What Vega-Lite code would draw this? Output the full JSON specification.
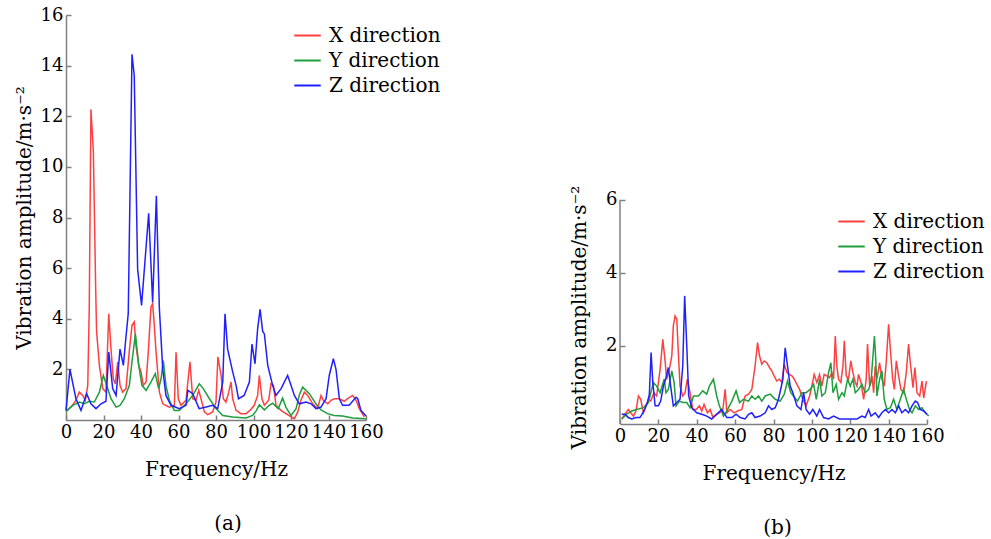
{
  "$schema": "https://vega.github.io/schema/vega-lite/v6.json",
  "padding": {"left": 14, "top": 6, "right": 0, "bottom": 0},
  "background": "white",
  "config": {
    "font": "DejaVu Serif",
    "view": {"stroke": null},
    "axis": {"labelFont": "DejaVu Serif", "titleFont": "DejaVu Serif", "labelFontSize": 18, "titleFontSize": 20, "labelColor": "black", "titleColor": "black", "titleFontWeight": "normal", "domainColor": "#808080", "domainWidth": 1.5, "tickColor": "#808080", "tickWidth": 1.5, "tickSize": -5, "labelPadding": 8, "labelOverlap": false, "labelFlush": false, "grid": false},
    "legend": {"labelFont": "DejaVu Serif", "labelFontSize": 20, "labelColor": "black", "symbolType": "stroke", "symbolSize": 700, "symbolStrokeWidth": 2, "labelOffset": 7, "rowPadding": 0, "padding": 0, "title": null},
    "title": {"font": "DejaVu Serif", "fontSize": 20, "fontWeight": "normal", "color": "black"}
  },
  "datasets": {
    "a": [
      {"f":0,"v":0.34,"dir":"X direction"},{"f":2.7,"v":0.51,"dir":"X direction"},{"f":5.3,"v":0.78,"dir":"X direction"},{"f":7.1,"v":1.1,"dir":"X direction"},{"f":8.9,"v":0.97,"dir":"X direction"},{"f":10.3,"v":0.78,"dir":"X direction"},{"f":11.6,"v":1.37,"dir":"X direction"},{"f":12.4,"v":4.4,"dir":"X direction"},{"f":13.3,"v":12.27,"dir":"X direction"},{"f":14.6,"v":10.6,"dir":"X direction"},{"f":15.8,"v":5.3,"dir":"X direction"},{"f":16.3,"v":3.5,"dir":"X direction"},{"f":17.8,"v":2.16,"dir":"X direction"},{"f":19.6,"v":1.24,"dir":"X direction"},{"f":21.3,"v":1.1,"dir":"X direction"},{"f":22.8,"v":4.2,"dir":"X direction"},{"f":24,"v":2.8,"dir":"X direction"},{"f":25.2,"v":1.63,"dir":"X direction"},{"f":26.3,"v":1.43,"dir":"X direction"},{"f":27.6,"v":2.3,"dir":"X direction"},{"f":28.8,"v":1.37,"dir":"X direction"},{"f":30.2,"v":1.1,"dir":"X direction"},{"f":32,"v":1.24,"dir":"X direction"},{"f":33.8,"v":2.75,"dir":"X direction"},{"f":35.2,"v":3.74,"dir":"X direction"},{"f":36.4,"v":3.87,"dir":"X direction"},{"f":37.3,"v":2.95,"dir":"X direction"},{"f":38.8,"v":2.16,"dir":"X direction"},{"f":40,"v":1.9,"dir":"X direction"},{"f":41.2,"v":1.37,"dir":"X direction"},{"f":42.7,"v":1.5,"dir":"X direction"},{"f":43.9,"v":2.7,"dir":"X direction"},{"f":45.3,"v":4.46,"dir":"X direction"},{"f":46.2,"v":4.6,"dir":"X direction"},{"f":47.1,"v":3.74,"dir":"X direction"},{"f":48,"v":2.7,"dir":"X direction"},{"f":49.8,"v":1.1,"dir":"X direction"},{"f":51.6,"v":0.64,"dir":"X direction"},{"f":55.1,"v":0.51,"dir":"X direction"},{"f":57.8,"v":0.58,"dir":"X direction"},{"f":58.7,"v":2.68,"dir":"X direction"},{"f":59.9,"v":0.84,"dir":"X direction"},{"f":61.3,"v":0.58,"dir":"X direction"},{"f":64,"v":0.78,"dir":"X direction"},{"f":66.1,"v":2.3,"dir":"X direction"},{"f":67.6,"v":0.84,"dir":"X direction"},{"f":69.3,"v":0.78,"dir":"X direction"},{"f":70.8,"v":1.17,"dir":"X direction"},{"f":72,"v":0.84,"dir":"X direction"},{"f":73.8,"v":0.32,"dir":"X direction"},{"f":75.6,"v":0.21,"dir":"X direction"},{"f":78.2,"v":0.32,"dir":"X direction"},{"f":80,"v":0.71,"dir":"X direction"},{"f":81,"v":2.49,"dir":"X direction"},{"f":82.7,"v":1.76,"dir":"X direction"},{"f":83.9,"v":0.84,"dir":"X direction"},{"f":85.3,"v":0.71,"dir":"X direction"},{"f":86.8,"v":1.1,"dir":"X direction"},{"f":88,"v":1.5,"dir":"X direction"},{"f":88.9,"v":0.84,"dir":"X direction"},{"f":90.7,"v":0.38,"dir":"X direction"},{"f":93.3,"v":0.25,"dir":"X direction"},{"f":96,"v":0.25,"dir":"X direction"},{"f":98.1,"v":0.38,"dir":"X direction"},{"f":100.4,"v":0.58,"dir":"X direction"},{"f":102.2,"v":0.97,"dir":"X direction"},{"f":103.1,"v":1.76,"dir":"X direction"},{"f":104.5,"v":0.84,"dir":"X direction"},{"f":105.8,"v":0.58,"dir":"X direction"},{"f":108.1,"v":0.78,"dir":"X direction"},{"f":109.3,"v":1.43,"dir":"X direction"},{"f":110.6,"v":1.37,"dir":"X direction"},{"f":112,"v":0.58,"dir":"X direction"},{"f":114.7,"v":0.38,"dir":"X direction"},{"f":117.3,"v":0.25,"dir":"X direction"},{"f":120,"v":0.12,"dir":"X direction"},{"f":121.8,"v":0.05,"dir":"X direction"},{"f":123.6,"v":0.32,"dir":"X direction"},{"f":125.3,"v":0.78,"dir":"X direction"},{"f":127.1,"v":1.1,"dir":"X direction"},{"f":128.9,"v":0.97,"dir":"X direction"},{"f":131.6,"v":0.64,"dir":"X direction"},{"f":134.2,"v":0.45,"dir":"X direction"},{"f":136,"v":0.97,"dir":"X direction"},{"f":137.2,"v":0.78,"dir":"X direction"},{"f":139.6,"v":0.64,"dir":"X direction"},{"f":141.3,"v":0.78,"dir":"X direction"},{"f":143.1,"v":0.84,"dir":"X direction"},{"f":145.8,"v":0.84,"dir":"X direction"},{"f":148.4,"v":0.74,"dir":"X direction"},{"f":150.2,"v":0.84,"dir":"X direction"},{"f":152.9,"v":0.97,"dir":"X direction"},{"f":154.7,"v":0.78,"dir":"X direction"},{"f":156.4,"v":0.45,"dir":"X direction"},{"f":159.1,"v":0.12,"dir":"X direction"},
      {"f":0,"v":0.34,"dir":"Y direction"},{"f":3.6,"v":0.58,"dir":"Y direction"},{"f":7.1,"v":0.71,"dir":"Y direction"},{"f":9.8,"v":0.64,"dir":"Y direction"},{"f":12.4,"v":0.74,"dir":"Y direction"},{"f":15.1,"v":0.71,"dir":"Y direction"},{"f":17.8,"v":1.1,"dir":"Y direction"},{"f":19.9,"v":1.76,"dir":"Y direction"},{"f":21.7,"v":1.37,"dir":"Y direction"},{"f":24,"v":0.84,"dir":"Y direction"},{"f":26.7,"v":0.51,"dir":"Y direction"},{"f":28.8,"v":0.58,"dir":"Y direction"},{"f":31.1,"v":0.84,"dir":"Y direction"},{"f":33.8,"v":1.37,"dir":"Y direction"},{"f":35.2,"v":2.3,"dir":"Y direction"},{"f":37,"v":3.4,"dir":"Y direction"},{"f":38.8,"v":2.16,"dir":"Y direction"},{"f":40.5,"v":1.37,"dir":"Y direction"},{"f":42.7,"v":1.17,"dir":"Y direction"},{"f":45.3,"v":1.5,"dir":"Y direction"},{"f":47.6,"v":1.83,"dir":"Y direction"},{"f":49.4,"v":1.24,"dir":"Y direction"},{"f":50.7,"v":1.63,"dir":"Y direction"},{"f":51.9,"v":2.35,"dir":"Y direction"},{"f":53.3,"v":1.37,"dir":"Y direction"},{"f":55.1,"v":0.78,"dir":"Y direction"},{"f":57.8,"v":0.38,"dir":"Y direction"},{"f":60.4,"v":0.38,"dir":"Y direction"},{"f":64,"v":0.64,"dir":"Y direction"},{"f":67.6,"v":0.97,"dir":"Y direction"},{"f":71.1,"v":1.43,"dir":"Y direction"},{"f":73.2,"v":1.24,"dir":"Y direction"},{"f":76.4,"v":0.85,"dir":"Y direction"},{"f":80,"v":0.45,"dir":"Y direction"},{"f":83.6,"v":0.18,"dir":"Y direction"},{"f":88.9,"v":0.12,"dir":"Y direction"},{"f":96,"v":0.08,"dir":"Y direction"},{"f":99.5,"v":0.18,"dir":"Y direction"},{"f":101.3,"v":0.35,"dir":"Y direction"},{"f":103.1,"v":0.6,"dir":"Y direction"},{"f":105.8,"v":0.4,"dir":"Y direction"},{"f":108.4,"v":0.58,"dir":"Y direction"},{"f":110.2,"v":0.66,"dir":"Y direction"},{"f":113.2,"v":0.45,"dir":"Y direction"},{"f":115.5,"v":0.87,"dir":"Y direction"},{"f":117.3,"v":0.5,"dir":"Y direction"},{"f":120,"v":0.18,"dir":"Y direction"},{"f":122.7,"v":0.45,"dir":"Y direction"},{"f":124.5,"v":1.0,"dir":"Y direction"},{"f":126.2,"v":1.3,"dir":"Y direction"},{"f":129.8,"v":1.04,"dir":"Y direction"},{"f":133.3,"v":0.64,"dir":"Y direction"},{"f":136,"v":0.4,"dir":"Y direction"},{"f":139.5,"v":0.25,"dir":"Y direction"},{"f":143,"v":0.18,"dir":"Y direction"},{"f":147.5,"v":0.16,"dir":"Y direction"},{"f":152.9,"v":0.08,"dir":"Y direction"},{"f":160,"v":0.05,"dir":"Y direction"},
      {"f":0,"v":0.38,"dir":"Z direction"},{"f":2.1,"v":2.0,"dir":"Z direction"},{"f":5.3,"v":0.84,"dir":"Z direction"},{"f":8,"v":0.38,"dir":"Z direction"},{"f":11,"v":1.04,"dir":"Z direction"},{"f":13.3,"v":0.64,"dir":"Z direction"},{"f":16,"v":0.45,"dir":"Z direction"},{"f":18.7,"v":0.64,"dir":"Z direction"},{"f":21.3,"v":0.74,"dir":"Z direction"},{"f":22.8,"v":2.68,"dir":"Z direction"},{"f":24.9,"v":1.24,"dir":"Z direction"},{"f":26.7,"v":0.97,"dir":"Z direction"},{"f":28.8,"v":2.8,"dir":"Z direction"},{"f":30.6,"v":2.16,"dir":"Z direction"},{"f":32,"v":3.3,"dir":"Z direction"},{"f":33.2,"v":4.2,"dir":"Z direction"},{"f":35.2,"v":14.45,"dir":"Z direction"},{"f":36.4,"v":13.6,"dir":"Z direction"},{"f":38.2,"v":5.96,"dir":"Z direction"},{"f":40.3,"v":4.53,"dir":"Z direction"},{"f":44.1,"v":8.17,"dir":"Z direction"},{"f":46.2,"v":4.65,"dir":"Z direction"},{"f":48.2,"v":8.86,"dir":"Z direction"},{"f":49.8,"v":4.4,"dir":"Z direction"},{"f":51.6,"v":2.0,"dir":"Z direction"},{"f":53.3,"v":0.97,"dir":"Z direction"},{"f":56,"v":0.58,"dir":"Z direction"},{"f":60.4,"v":0.45,"dir":"Z direction"},{"f":64,"v":0.58,"dir":"Z direction"},{"f":65,"v":1.17,"dir":"Z direction"},{"f":67.6,"v":1.04,"dir":"Z direction"},{"f":71,"v":0.45,"dir":"Z direction"},{"f":74.7,"v":0.51,"dir":"Z direction"},{"f":78.2,"v":0.58,"dir":"Z direction"},{"f":80.9,"v":0.45,"dir":"Z direction"},{"f":83.6,"v":1.5,"dir":"Z direction"},{"f":84.8,"v":4.2,"dir":"Z direction"},{"f":86.2,"v":2.8,"dir":"Z direction"},{"f":88.9,"v":1.9,"dir":"Z direction"},{"f":90.7,"v":1.37,"dir":"Z direction"},{"f":92,"v":0.84,"dir":"Z direction"},{"f":95,"v":0.97,"dir":"Z direction"},{"f":97.8,"v":1.5,"dir":"Z direction"},{"f":99.2,"v":3.0,"dir":"Z direction"},{"f":100.8,"v":2.22,"dir":"Z direction"},{"f":102.2,"v":3.6,"dir":"Z direction"},{"f":103.5,"v":4.37,"dir":"Z direction"},{"f":104.9,"v":3.5,"dir":"Z direction"},{"f":105.8,"v":3.4,"dir":"Z direction"},{"f":107.6,"v":2.16,"dir":"Z direction"},{"f":110.2,"v":1.37,"dir":"Z direction"},{"f":112,"v":0.97,"dir":"Z direction"},{"f":114.7,"v":1.24,"dir":"Z direction"},{"f":118.2,"v":1.76,"dir":"Z direction"},{"f":120,"v":1.37,"dir":"Z direction"},{"f":121.8,"v":0.97,"dir":"Z direction"},{"f":124.4,"v":0.64,"dir":"Z direction"},{"f":128,"v":0.71,"dir":"Z direction"},{"f":130.7,"v":0.64,"dir":"Z direction"},{"f":133.3,"v":0.45,"dir":"Z direction"},{"f":136,"v":0.51,"dir":"Z direction"},{"f":138.7,"v":0.84,"dir":"Z direction"},{"f":140.4,"v":1.76,"dir":"Z direction"},{"f":142.6,"v":2.42,"dir":"Z direction"},{"f":144,"v":2.0,"dir":"Z direction"},{"f":145.8,"v":0.84,"dir":"Z direction"},{"f":147.5,"v":0.58,"dir":"Z direction"},{"f":151,"v":0.58,"dir":"Z direction"},{"f":154.7,"v":0.9,"dir":"Z direction"},{"f":155.6,"v":0.84,"dir":"Z direction"},{"f":157.3,"v":0.38,"dir":"Z direction"},{"f":160,"v":0.16,"dir":"Z direction"}
    ],
    "b": [
      {"f":0.9,"v":0.0,"dir":"X direction"},{"f":2.6,"v":0.13,"dir":"X direction"},{"f":4.3,"v":0.26,"dir":"X direction"},{"f":5.6,"v":0.17,"dir":"X direction"},{"f":7,"v":0.08,"dir":"X direction"},{"f":8.3,"v":0.22,"dir":"X direction"},{"f":9.6,"v":0.63,"dir":"X direction"},{"f":10.8,"v":0.54,"dir":"X direction"},{"f":12.2,"v":0.17,"dir":"X direction"},{"f":13.6,"v":0.36,"dir":"X direction"},{"f":14.8,"v":0.54,"dir":"X direction"},{"f":16,"v":0.49,"dir":"X direction"},{"f":17.7,"v":0.72,"dir":"X direction"},{"f":19.1,"v":0.63,"dir":"X direction"},{"f":20.9,"v":1.36,"dir":"X direction"},{"f":22.3,"v":2.18,"dir":"X direction"},{"f":23.5,"v":1.59,"dir":"X direction"},{"f":24.3,"v":1.09,"dir":"X direction"},{"f":25.7,"v":1.36,"dir":"X direction"},{"f":27,"v":1.73,"dir":"X direction"},{"f":27.8,"v":2.55,"dir":"X direction"},{"f":28.7,"v":2.82,"dir":"X direction"},{"f":29.6,"v":2.73,"dir":"X direction"},{"f":30.4,"v":1.82,"dir":"X direction"},{"f":31.3,"v":0.9,"dir":"X direction"},{"f":32.7,"v":0.63,"dir":"X direction"},{"f":33.9,"v":0.72,"dir":"X direction"},{"f":35.1,"v":1.09,"dir":"X direction"},{"f":36.5,"v":0.72,"dir":"X direction"},{"f":37.9,"v":0.26,"dir":"X direction"},{"f":39.7,"v":0.26,"dir":"X direction"},{"f":41.4,"v":0.36,"dir":"X direction"},{"f":42.6,"v":0.22,"dir":"X direction"},{"f":43.8,"v":0.4,"dir":"X direction"},{"f":45.6,"v":0.17,"dir":"X direction"},{"f":47,"v":0.26,"dir":"X direction"},{"f":48.3,"v":0.06,"dir":"X direction"},{"f":50.4,"v":0.13,"dir":"X direction"},{"f":51.8,"v":0.17,"dir":"X direction"},{"f":53.6,"v":0.26,"dir":"X direction"},{"f":54.8,"v":0.81,"dir":"X direction"},{"f":55.7,"v":0.17,"dir":"X direction"},{"f":57.4,"v":0.26,"dir":"X direction"},{"f":59.5,"v":0.17,"dir":"X direction"},{"f":61.2,"v":0.22,"dir":"X direction"},{"f":63.5,"v":0.26,"dir":"X direction"},{"f":65.2,"v":0.63,"dir":"X direction"},{"f":67,"v":0.68,"dir":"X direction"},{"f":68.7,"v":0.81,"dir":"X direction"},{"f":70.4,"v":1.45,"dir":"X direction"},{"f":71.7,"v":2.09,"dir":"X direction"},{"f":72.7,"v":1.73,"dir":"X direction"},{"f":73.9,"v":1.5,"dir":"X direction"},{"f":75.1,"v":1.59,"dir":"X direction"},{"f":76.5,"v":1.54,"dir":"X direction"},{"f":77.9,"v":1.41,"dir":"X direction"},{"f":79.1,"v":1.32,"dir":"X direction"},{"f":80.3,"v":1.18,"dir":"X direction"},{"f":81.7,"v":1.04,"dir":"X direction"},{"f":83.1,"v":1.09,"dir":"X direction"},{"f":84.3,"v":1.0,"dir":"X direction"},{"f":85.6,"v":1.5,"dir":"X direction"},{"f":87,"v":1.27,"dir":"X direction"},{"f":88.3,"v":1.22,"dir":"X direction"},{"f":89.6,"v":1.18,"dir":"X direction"},{"f":90.8,"v":1.09,"dir":"X direction"},{"f":92.2,"v":0.95,"dir":"X direction"},{"f":93.6,"v":0.81,"dir":"X direction"},{"f":95.3,"v":0.54,"dir":"X direction"},{"f":97,"v":0.36,"dir":"X direction"},{"f":98.8,"v":0.63,"dir":"X direction"},{"f":100,"v":0.9,"dir":"X direction"},{"f":101.2,"v":1.22,"dir":"X direction"},{"f":102.6,"v":1.0,"dir":"X direction"},{"f":104,"v":1.22,"dir":"X direction"},{"f":105.2,"v":0.9,"dir":"X direction"},{"f":106.4,"v":1.22,"dir":"X direction"},{"f":107.8,"v":1.18,"dir":"X direction"},{"f":109.2,"v":1.13,"dir":"X direction"},{"f":110.4,"v":1.27,"dir":"X direction"},{"f":111.3,"v":1.09,"dir":"X direction"},{"f":112.2,"v":2.27,"dir":"X direction"},{"f":113,"v":1.45,"dir":"X direction"},{"f":113.9,"v":1.09,"dir":"X direction"},{"f":115.1,"v":1.0,"dir":"X direction"},{"f":116.2,"v":1.45,"dir":"X direction"},{"f":116.9,"v":2.14,"dir":"X direction"},{"f":117.9,"v":1.18,"dir":"X direction"},{"f":119.1,"v":1.09,"dir":"X direction"},{"f":120.3,"v":1.59,"dir":"X direction"},{"f":121.4,"v":1.27,"dir":"X direction"},{"f":122.6,"v":1.0,"dir":"X direction"},{"f":123.5,"v":0.9,"dir":"X direction"},{"f":124.3,"v":1.22,"dir":"X direction"},{"f":125.6,"v":1.0,"dir":"X direction"},{"f":127,"v":0.54,"dir":"X direction"},{"f":128.3,"v":1.09,"dir":"X direction"},{"f":129,"v":2.05,"dir":"X direction"},{"f":130.1,"v":0.9,"dir":"X direction"},{"f":131.3,"v":1.18,"dir":"X direction"},{"f":132.2,"v":0.72,"dir":"X direction"},{"f":133,"v":1.45,"dir":"X direction"},{"f":133.9,"v":1.09,"dir":"X direction"},{"f":135.3,"v":1.54,"dir":"X direction"},{"f":136.5,"v":1.09,"dir":"X direction"},{"f":137.7,"v":0.9,"dir":"X direction"},{"f":138.8,"v":1.59,"dir":"X direction"},{"f":140,"v":2.59,"dir":"X direction"},{"f":140.9,"v":1.91,"dir":"X direction"},{"f":142.1,"v":1.09,"dir":"X direction"},{"f":143,"v":0.81,"dir":"X direction"},{"f":144,"v":1.59,"dir":"X direction"},{"f":145.2,"v":1.18,"dir":"X direction"},{"f":146.4,"v":0.81,"dir":"X direction"},{"f":147.8,"v":0.72,"dir":"X direction"},{"f":149.2,"v":1.27,"dir":"X direction"},{"f":150.4,"v":2.05,"dir":"X direction"},{"f":151.3,"v":1.54,"dir":"X direction"},{"f":152.7,"v":0.86,"dir":"X direction"},{"f":153.7,"v":1.41,"dir":"X direction"},{"f":154.8,"v":0.72,"dir":"X direction"},{"f":156.2,"v":0.63,"dir":"X direction"},{"f":157.4,"v":1.04,"dir":"X direction"},{"f":158.3,"v":0.58,"dir":"X direction"},{"f":159.7,"v":1.04,"dir":"X direction"},
      {"f":0.9,"v":0.0,"dir":"Y direction"},{"f":3.5,"v":0.13,"dir":"Y direction"},{"f":6.1,"v":0.22,"dir":"Y direction"},{"f":8.7,"v":0.26,"dir":"Y direction"},{"f":12.2,"v":0.31,"dir":"Y direction"},{"f":14.8,"v":0.45,"dir":"Y direction"},{"f":17.4,"v":1.0,"dir":"Y direction"},{"f":19.1,"v":0.9,"dir":"Y direction"},{"f":20.9,"v":0.72,"dir":"Y direction"},{"f":23,"v":1.09,"dir":"Y direction"},{"f":24,"v":0.72,"dir":"Y direction"},{"f":25.2,"v":0.81,"dir":"Y direction"},{"f":27,"v":1.32,"dir":"Y direction"},{"f":28.2,"v":1.0,"dir":"Y direction"},{"f":29.2,"v":0.36,"dir":"Y direction"},{"f":31,"v":0.49,"dir":"Y direction"},{"f":32.7,"v":0.45,"dir":"Y direction"},{"f":34.8,"v":0.45,"dir":"Y direction"},{"f":36.5,"v":0.31,"dir":"Y direction"},{"f":38.3,"v":0.63,"dir":"Y direction"},{"f":40.9,"v":0.63,"dir":"Y direction"},{"f":43.1,"v":0.77,"dir":"Y direction"},{"f":45.2,"v":0.68,"dir":"Y direction"},{"f":46.6,"v":0.9,"dir":"Y direction"},{"f":48.7,"v":1.09,"dir":"Y direction"},{"f":50.4,"v":0.63,"dir":"Y direction"},{"f":51.8,"v":0.36,"dir":"Y direction"},{"f":53.9,"v":0.08,"dir":"Y direction"},{"f":55.7,"v":0.22,"dir":"Y direction"},{"f":58.3,"v":0.49,"dir":"Y direction"},{"f":60.5,"v":0.77,"dir":"Y direction"},{"f":62.3,"v":0.45,"dir":"Y direction"},{"f":64.3,"v":0.54,"dir":"Y direction"},{"f":67,"v":0.49,"dir":"Y direction"},{"f":68.7,"v":0.63,"dir":"Y direction"},{"f":70.4,"v":0.54,"dir":"Y direction"},{"f":72.2,"v":0.63,"dir":"Y direction"},{"f":73.9,"v":0.49,"dir":"Y direction"},{"f":75.7,"v":0.63,"dir":"Y direction"},{"f":78.3,"v":0.68,"dir":"Y direction"},{"f":80.9,"v":0.54,"dir":"Y direction"},{"f":83.5,"v":0.49,"dir":"Y direction"},{"f":85.6,"v":0.68,"dir":"Y direction"},{"f":87.3,"v":1.04,"dir":"Y direction"},{"f":89,"v":0.72,"dir":"Y direction"},{"f":90.4,"v":0.63,"dir":"Y direction"},{"f":92.5,"v":0.49,"dir":"Y direction"},{"f":94.8,"v":0.72,"dir":"Y direction"},{"f":97,"v":0.72,"dir":"Y direction"},{"f":99.1,"v":0.81,"dir":"Y direction"},{"f":100.9,"v":0.95,"dir":"Y direction"},{"f":102.3,"v":0.54,"dir":"Y direction"},{"f":104,"v":1.09,"dir":"Y direction"},{"f":105.2,"v":0.63,"dir":"Y direction"},{"f":107,"v":0.72,"dir":"Y direction"},{"f":108.7,"v":1.27,"dir":"Y direction"},{"f":109.9,"v":1.54,"dir":"Y direction"},{"f":111,"v":0.72,"dir":"Y direction"},{"f":112.7,"v":0.95,"dir":"Y direction"},{"f":113.9,"v":0.54,"dir":"Y direction"},{"f":115.7,"v":0.72,"dir":"Y direction"},{"f":116.9,"v":0.63,"dir":"Y direction"},{"f":118.6,"v":1.09,"dir":"Y direction"},{"f":120,"v":0.9,"dir":"Y direction"},{"f":121.4,"v":1.09,"dir":"Y direction"},{"f":122.6,"v":0.72,"dir":"Y direction"},{"f":124.3,"v":0.81,"dir":"Y direction"},{"f":126.1,"v":0.95,"dir":"Y direction"},{"f":127.8,"v":0.72,"dir":"Y direction"},{"f":129.6,"v":0.81,"dir":"Y direction"},{"f":130.8,"v":1.0,"dir":"Y direction"},{"f":132.6,"v":2.27,"dir":"Y direction"},{"f":133.3,"v":1.63,"dir":"Y direction"},{"f":133.9,"v":0.63,"dir":"Y direction"},{"f":135.3,"v":1.09,"dir":"Y direction"},{"f":136.5,"v":1.32,"dir":"Y direction"},{"f":137.7,"v":0.54,"dir":"Y direction"},{"f":139.1,"v":0.26,"dir":"Y direction"},{"f":140.9,"v":0.31,"dir":"Y direction"},{"f":142.6,"v":0.54,"dir":"Y direction"},{"f":144.3,"v":0.26,"dir":"Y direction"},{"f":146.1,"v":0.54,"dir":"Y direction"},{"f":147.8,"v":0.81,"dir":"Y direction"},{"f":149.2,"v":0.54,"dir":"Y direction"},{"f":150.9,"v":0.26,"dir":"Y direction"},{"f":152.2,"v":0.17,"dir":"Y direction"},{"f":153.9,"v":0.36,"dir":"Y direction"},{"f":155.7,"v":0.26,"dir":"Y direction"},{"f":157.4,"v":0.31,"dir":"Y direction"},{"f":159.1,"v":0.17,"dir":"Y direction"},{"f":160.9,"v":0.08,"dir":"Y direction"},
      {"f":0.9,"v":0.13,"dir":"Z direction"},{"f":2.6,"v":0.13,"dir":"Z direction"},{"f":4.3,"v":0.04,"dir":"Z direction"},{"f":6.1,"v":0.0,"dir":"Z direction"},{"f":8.3,"v":0.04,"dir":"Z direction"},{"f":10.4,"v":0.04,"dir":"Z direction"},{"f":12.5,"v":0.22,"dir":"Z direction"},{"f":14.3,"v":0.45,"dir":"Z direction"},{"f":15.3,"v":0.68,"dir":"Z direction"},{"f":16.2,"v":1.82,"dir":"Z direction"},{"f":17.1,"v":1.0,"dir":"Z direction"},{"f":18.3,"v":0.36,"dir":"Z direction"},{"f":20,"v":0.36,"dir":"Z direction"},{"f":21.2,"v":0.49,"dir":"Z direction"},{"f":22.6,"v":0.9,"dir":"Z direction"},{"f":24,"v":1.13,"dir":"Z direction"},{"f":25.2,"v":1.41,"dir":"Z direction"},{"f":26.4,"v":0.9,"dir":"Z direction"},{"f":27.8,"v":0.36,"dir":"Z direction"},{"f":29.6,"v":0.45,"dir":"Z direction"},{"f":31.3,"v":0.54,"dir":"Z direction"},{"f":32.7,"v":1.45,"dir":"Z direction"},{"f":33.7,"v":3.37,"dir":"Z direction"},{"f":34.8,"v":2.0,"dir":"Z direction"},{"f":35.8,"v":0.63,"dir":"Z direction"},{"f":37.4,"v":0.31,"dir":"Z direction"},{"f":40,"v":0.17,"dir":"Z direction"},{"f":42.6,"v":0.13,"dir":"Z direction"},{"f":45.2,"v":0.08,"dir":"Z direction"},{"f":47.8,"v":0.0,"dir":"Z direction"},{"f":50.4,"v":0.13,"dir":"Z direction"},{"f":53,"v":0.26,"dir":"Z direction"},{"f":55.7,"v":0.04,"dir":"Z direction"},{"f":58.3,"v":0.04,"dir":"Z direction"},{"f":60.5,"v":0.13,"dir":"Z direction"},{"f":62.6,"v":0.04,"dir":"Z direction"},{"f":65.2,"v":0.0,"dir":"Z direction"},{"f":67,"v":0.13,"dir":"Z direction"},{"f":68.7,"v":0.17,"dir":"Z direction"},{"f":70.4,"v":0.04,"dir":"Z direction"},{"f":73,"v":0.08,"dir":"Z direction"},{"f":75.7,"v":0.17,"dir":"Z direction"},{"f":77.4,"v":0.36,"dir":"Z direction"},{"f":79.1,"v":0.26,"dir":"Z direction"},{"f":80.9,"v":0.31,"dir":"Z direction"},{"f":82.6,"v":0.54,"dir":"Z direction"},{"f":84.9,"v":1.09,"dir":"Z direction"},{"f":86.1,"v":1.95,"dir":"Z direction"},{"f":87.3,"v":1.45,"dir":"Z direction"},{"f":88.7,"v":0.9,"dir":"Z direction"},{"f":90.1,"v":0.72,"dir":"Z direction"},{"f":92.2,"v":0.36,"dir":"Z direction"},{"f":94.3,"v":0.26,"dir":"Z direction"},{"f":95.7,"v":0.72,"dir":"Z direction"},{"f":97,"v":0.26,"dir":"Z direction"},{"f":98.8,"v":0.13,"dir":"Z direction"},{"f":100.5,"v":0.26,"dir":"Z direction"},{"f":102.6,"v":0.08,"dir":"Z direction"},{"f":104,"v":0.26,"dir":"Z direction"},{"f":106.1,"v":0.04,"dir":"Z direction"},{"f":108.7,"v":0.0,"dir":"Z direction"},{"f":111.3,"v":0.08,"dir":"Z direction"},{"f":114.4,"v":0.0,"dir":"Z direction"},{"f":117.4,"v":0.0,"dir":"Z direction"},{"f":120,"v":0.0,"dir":"Z direction"},{"f":123.5,"v":0.0,"dir":"Z direction"},{"f":126.1,"v":0.08,"dir":"Z direction"},{"f":127.8,"v":0.04,"dir":"Z direction"},{"f":129.6,"v":0.26,"dir":"Z direction"},{"f":130.8,"v":0.08,"dir":"Z direction"},{"f":133,"v":0.17,"dir":"Z direction"},{"f":134.8,"v":0.04,"dir":"Z direction"},{"f":136.5,"v":0.17,"dir":"Z direction"},{"f":138.3,"v":0.26,"dir":"Z direction"},{"f":140,"v":0.17,"dir":"Z direction"},{"f":141.7,"v":0.26,"dir":"Z direction"},{"f":143.5,"v":0.17,"dir":"Z direction"},{"f":145.2,"v":0.36,"dir":"Z direction"},{"f":146.9,"v":0.17,"dir":"Z direction"},{"f":148.7,"v":0.26,"dir":"Z direction"},{"f":150.4,"v":0.17,"dir":"Z direction"},{"f":152.2,"v":0.36,"dir":"Z direction"},{"f":153.9,"v":0.49,"dir":"Z direction"},{"f":155.1,"v":0.45,"dir":"Z direction"},{"f":156.5,"v":0.26,"dir":"Z direction"},{"f":158.3,"v":0.22,"dir":"Z direction"},{"f":160,"v":0.13,"dir":"Z direction"}
    ]
  },
  "bounds": "flush",
  "spacing": 254,
  "resolve": {"scale": {"color": "independent", "x": "independent", "y": "independent"}, "legend": {"color": "independent"}, "axis": {"x": "independent", "y": "independent"}},
  "hconcat": [
    {
      "width": 300,
      "height": 405,
      "data": {"name": "a"},
      "title": {"text": "(a)", "orient": "bottom", "offset": 35, "dx": 12},
      "mark": {"type": "line", "strokeWidth": 1.5, "interpolate": "linear"},
      "encoding": {
        "x": {"field": "f", "type": "quantitative", "scale": {"domain": [0, 160], "nice": false, "zero": false}, "axis": {"title": "Frequency/Hz", "values": [0, 20, 40, 60, 80, 100, 120, 140, 160], "labelOverlap": false, "titlePadding": 18}},
        "y": {"field": "v", "type": "quantitative", "scale": {"domain": [0, 16], "nice": false}, "axis": {"title": "Vibration amplitude/m·s⁻²", "values": [2, 4, 6, 8, 10, 12, 14, 16], "titlePadding": 6}},
        "color": {"field": "dir", "type": "nominal", "scale": {"domain": ["X direction", "Y direction", "Z direction"], "range": ["#ff4040", "#1e9e3c", "#2020ff"]}, "legend": {"orient": "none", "legendX": 227, "legendY": 6}}
      }
    },
    {
      "width": 307,
      "height": 409,
      "layer": [
        {
          "data": {"name": "b"},
          "mark": {"type": "line", "strokeWidth": 1.5, "interpolate": "linear"},
          "encoding": {
            "x": {"field": "f", "type": "quantitative", "scale": {"domain": [0, 160], "nice": false, "zero": false}, "axis": {"title": "Frequency/Hz", "values": [0, 20, 40, 60, 80, 100, 120, 140, 160], "labelOverlap": false, "labelFlush": false, "titlePadding": 18}},
            "y": {"field": "v", "type": "quantitative", "scale": {"domain": [-0.137, 11.06], "nice": false, "zero": false}, "axis": {"title": "Vibration amplitude/m·s⁻²", "values": [2, 4, 6], "domain": false, "titlePadding": 16, "titleY": 302}},
            "color": {"field": "dir", "type": "nominal", "scale": {"domain": ["X direction", "Y direction", "Z direction"], "range": ["#ff4040", "#1e9e3c", "#2020ff"]}, "legend": {"orient": "none", "legendX": 217, "legendY": 192}}
          }
        },
        {
          "data": {"values": [{}]},
          "mark": {"type": "rule", "color": "#808080", "strokeWidth": 1.5},
          "encoding": {
            "x": {"datum": 0, "type": "quantitative", "axis": {"title": "Frequency/Hz", "values": [0, 20, 40, 60, 80, 100, 120, 140, 160], "labelOverlap": false, "labelFlush": false, "titlePadding": 18}},
            "y": {"datum": -0.137, "type": "quantitative"},
            "y2": {"datum": 6}
          }
        }
      ],
      "title": {"text": "(b)", "orient": "bottom", "offset": 35, "dx": 4}
    }
  ]
}
